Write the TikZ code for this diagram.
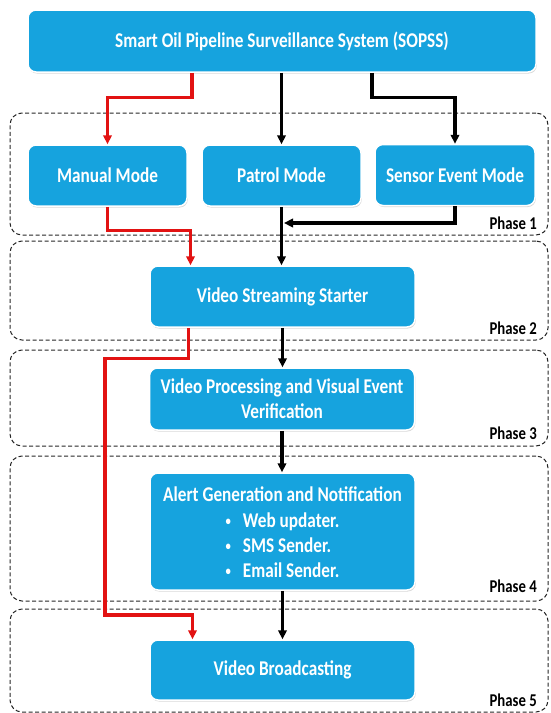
\documentclass[tikz,border=0pt]{standalone}
\usepackage{fontspec}
\setmainfont[FakeStretch=0.82]{Carlito}
\usetikzlibrary{arrows.meta,shadows}

\definecolor{boxblue}{RGB}{22,163,222}
\definecolor{flowred}{RGB}{226,18,18}

\newcommand{\itemdot}{\raisebox{2.5pt}{\fontsize{13}{13}\selectfont •}}

\begin{document}
\begin{tikzpicture}[
    x=1pt, y=-1pt,
    stage/.style={rectangle, rounded corners=8pt, fill=boxblue, draw=white, line width=1.5pt,
        text=white, font=\fontsize{21}{25}\selectfont\bfseries, align=center, inner sep=0pt,
        drop shadow={opacity=0.3, shadow xshift=0.8pt, shadow yshift=-1.5pt}},
    mode/.style={stage, minimum width=159pt, minimum height=61pt},
    wide/.style={stage, minimum width=265pt, minimum height=61pt},
    phasebox/.style={draw=black!85, dash pattern=on 4pt off 2.5pt, line width=1pt,
        rounded corners=12pt, minimum width=538pt, inner sep=0pt},
    phaselabel/.style={font=\fontsize{18}{20}\selectfont\bfseries, anchor=east, inner sep=0pt},
    flow/.style={-{Triangle[length=9pt,width=8.5pt]}, line width=3.3pt},
    manualflow/.style={flow, draw=flowred}
]
\useasboundingbox (0,0) rectangle (550,713);

% Phase frames
\node[phasebox, minimum height=122pt] (ph1) at (279,174) {};
\node[phasebox, minimum height=99pt] (ph2) at (279,290.5) {};
\node[phasebox, minimum height=96pt] (ph3) at (279,398) {};
\node[phasebox, minimum height=145pt] (ph4) at (279,528.5) {};
\node[phasebox, minimum height=103pt] (ph5) at (279,660.5) {};

% System
\node[stage, minimum width=508pt, minimum height=62pt] (sopss) at (282,41) {Smart Oil Pipeline Surveillance System (SOPSS)};

% Operating modes
\node[mode] (manual) at (107.5,175.5) {Manual Mode};
\node[mode] (patrol) at (281.5,175.5) {Patrol Mode};
\node[mode, minimum width=160pt] (sensor) at (455,175) {Sensor Event Mode};

% Processing chain
\node[wide] (streaming) at (282.5,296.5) {Video Streaming Starter};
\node[wide, minimum height=62pt] (processing) at (282,399) {Video Processing and Visual Event\\Verification};
\node[wide, minimum height=117pt] (alert) at (282.5,531.5) {\rule{0pt}{24pt}Alert Generation and Notification\\[1pt]
    \begin{tabular}[t]{@{}l@{\hspace{12pt}}l@{}}
    \itemdot & Web updater.\\
    \itemdot & SMS Sender.\\
    \itemdot & Email Sender.
    \end{tabular}};
\node[wide, minimum height=60pt] (broadcast) at (282.5,670) {Video Broadcasting};

% System to modes
\draw[manualflow] ([xshift=-90pt]sopss.south) -- ++(0,25) -| (manual.north);
\draw[flow] (sopss.south -| patrol.north) -- (patrol.north);
\draw[flow] ([xshift=90pt]sopss.south) -- ++(0,25) -| (sensor.north);

% Modes to streaming
\coordinate (join) at (284,223);
\draw[manualflow] (manual.south) -- ++(0,24) -| ([xshift=-92pt]streaming.north);
\draw[flow] (patrol.south) -- (patrol.south |- streaming.north);
\draw[flow] (sensor.south) |- (join);

% Streaming onwards
\draw[flow] (streaming.south) -- (streaming.south |- processing.north);
\draw[flow] (processing.south) -- (processing.south |- alert.north);
\draw[flow] (alert.south) -- (alert.south |- broadcast.north);

% Manual mode goes straight to broadcasting
\coordinate (bypass) at (105,615);
\draw[manualflow] ([xshift=-94pt]streaming.south) -- ++(0,31) -| (bypass) -| ([xshift=-90pt]broadcast.north);

% Phase labels
\node[phaselabel] (lab1) at (537,223) {Phase 1};
\node[phaselabel] (lab2) at (537,328) {Phase 2};
\node[phaselabel] (lab3) at (537,433) {Phase 3};
\node[phaselabel] (lab4) at (537,586) {Phase 4};
\node[phaselabel] (lab5) at (537,700) {Phase 5};

\end{tikzpicture}
\end{document}
